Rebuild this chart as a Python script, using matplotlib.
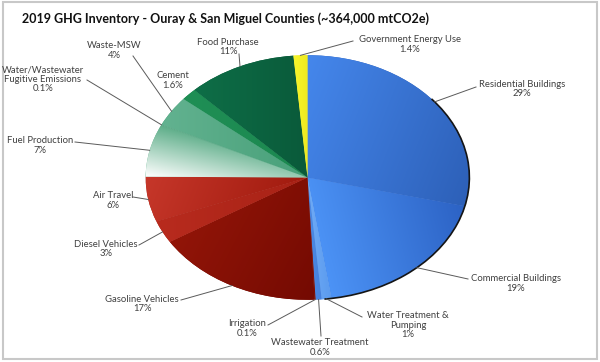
import numpy as np
import matplotlib
matplotlib.use('Agg')
import matplotlib.pyplot as plt
from matplotlib.colors import to_rgb
from matplotlib.patches import Arc, Rectangle

# sectors clockwise from 12 o'clock
sectors = ['Residential Buildings', 'Commercial Buildings', 'Water Treatment &\nPumping',
           'Wastewater Treatment', 'Irrigation', 'Gasoline Vehicles', 'Diesel Vehicles',
           'Air Travel', 'Fuel Production', 'Water/Wastewater\nFugitive Emissions',
           'Waste-MSW', 'Cement', 'Food Purchase', 'Government Energy Use']
shares = [29, 19, 1, 0.6, 0.1, 17, 3, 6, 7, 0.1, 4, 1.6, 11, 1.4]
share_labels = ['29%', '19%', '1%', '0.6%', '0.1%', '17%', '3%', '6%', '7%',
                '0.1%', '4%', '1.6%', '11%', '1.4%']

# (light colour, dark colour, gradient direction) per sector
shading = [
    ('#4587ec', '#2d60b8', (1, -0.3)),
    ('#4c93f6', '#2c62c4', (1, 0.2)),
    ('#6fabf6', '#5a9aee', (1, 0)),
    ('#4d8ce6', '#4580dc', (1, 0)),
    ('#7d0c02', '#7d0c02', (1, 0)),
    ('#921508', '#740a02', (1, -0.4)),
    ('#b82b1e', '#a82216', (1, 0)),
    ('#c6372a', '#a01a0e', (1, -0.3)),
    ('#ffffff', '#5cad88', (0.3, 1)),
    ('#5aa885', '#5aa885', (1, 0)),
    ('#62b290', '#48a079', (1, 0)),
    ('#1f8f55', '#1c8850', (1, 0)),
    ('#0e6e47', '#0a5a3a', (1, 0)),
    ('#f7f52c', '#eeea20', (1, 0)),
]

# label block centres and leader ends, in pixels of the 600x362 picture
label_xy = [(522, 89), (516, 283.5), (408, 325), (320, 347.5), (247, 328.5),
            (142, 304), (106, 249), (113, 200.5), (40, 145.5), (43, 79),
            (114, 50.5), (173, 80.5), (228, 47), (410, 44.5)]
leader_end = [(476, 87), (468, 279), (362, 317), (321, 336), (268, 325),
              (181, 300), (139, 245), (133, 197), (75, 142), (87, 80),
              (133, 56), None, (239, 54), (353, 41)]

fig = plt.figure(figsize=(6, 3.62), dpi=100)
fig.patch.set_facecolor('white')

# pie axes stretched into an ellipse
ax_pie = fig.add_axes([144 / 600, 1 - 301 / 362, 327 / 600, 247 / 362])
wedges, _ = ax_pie.pie(shares, startangle=90, counterclock=False,
                       colors=[s[1] for s in shading],
                       wedgeprops=dict(linewidth=0))

n = 400
gx, gy = np.meshgrid(np.linspace(-1, 1, n), np.linspace(-1, 1, n))
for w, (c1, c2, d) in zip(wedges, shading):
    d = np.array(d, float)
    d /= np.hypot(*d)
    verts = w.get_path().vertices
    proj_v = verts @ d
    lo, hi = proj_v.min(), proj_v.max()
    t = np.clip((gx * d[0] + gy * d[1] - lo) / max(hi - lo, 1e-6), 0, 1)[..., None]
    rgb = np.array(to_rgb(c1)) * (1 - t) + np.array(to_rgb(c2)) * t
    im = ax_pie.imshow(rgb, extent=(-1, 1, -1, 1), origin='lower',
                       interpolation='bilinear', aspect='auto', zorder=2)
    im.set_clip_path(w)

# dark rim on the right-hand side
ax_pie.add_patch(Arc((0, 0), 2, 2, theta1=-84, theta2=40, color='#151515',
                     lw=1.2, zorder=3))
ax_pie.set_xlim(-1.01, 1.01)
ax_pie.set_ylim(-1.01, 1.01)
ax_pie.set_aspect('auto')
ax_pie.axis('off')

# overlay in pixel coordinates for labels and leaders
ax = fig.add_axes([0, 0, 1, 1], zorder=5)
ax.set_xlim(0, 600)
ax.set_ylim(362, 0)
ax.axis('off')
ax.patch.set_alpha(0)

to_px = ax.transData.inverted()
for w, name, pct, xy, end in zip(wedges, sectors, share_labels, label_xy, leader_end):
    ang = np.deg2rad((w.theta1 + w.theta2) / 2)
    edge = ax_pie.transData.transform((np.cos(ang), np.sin(ang)))
    ex, ey = to_px.transform(edge)
    if end is not None:
        ax.plot([end[0], ex], [end[1], ey], color='#5a5a5a', lw=0.7)
    ax.text(xy[0], xy[1], name + '\n' + pct, ha='center', va='center',
            fontsize=6.8, color='#404040', family='Lato', linespacing=1.05)

ax.text(226, 19, '2019 GHG Inventory - Ouray & San Miguel Counties (~364,000 mtCO2e)',
        ha='center', va='center', fontsize=9.0, fontweight='bold',
        family='Lato', color='#111111')

ax.add_patch(Rectangle((3, 2), 594, 357, fill=False, edgecolor='#c8c8c8', lw=1.5))

fig.savefig('out.png', dpi=100)
